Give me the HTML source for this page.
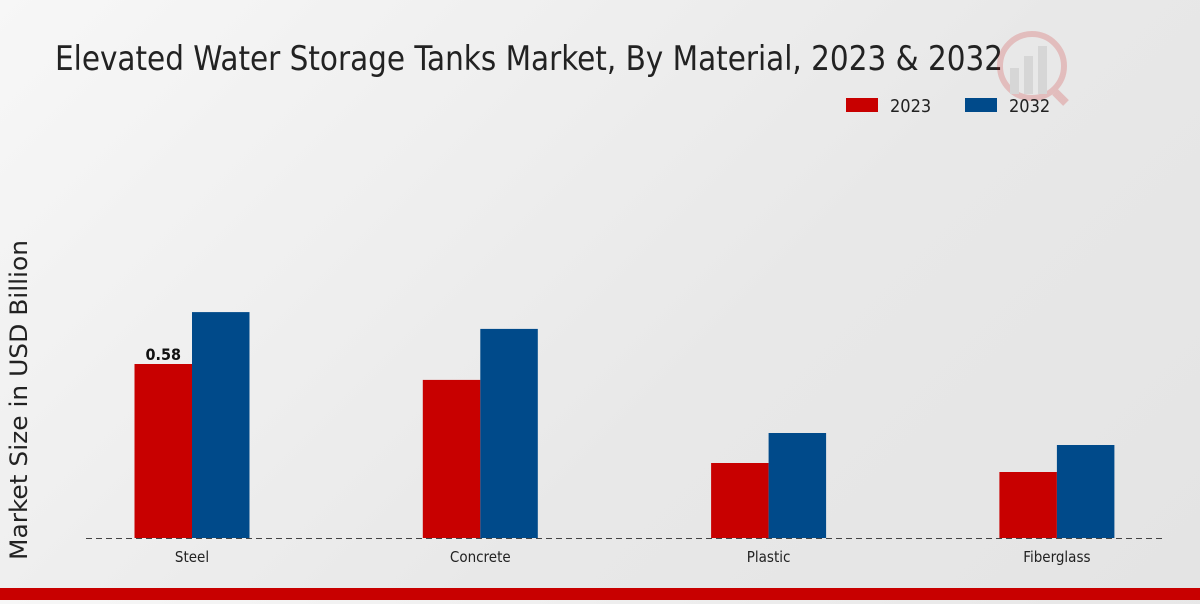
<!DOCTYPE html>
<html><head><meta charset="utf-8"><style>
body{margin:0;width:1200px;height:600px;overflow:hidden;background:linear-gradient(135deg,#f7f7f7 0%,#e8e8e8 60%,#e4e4e4 100%);font-family:"DejaVu Sans Condensed","DejaVu Sans","Liberation Sans",sans-serif;}
svg text{font-family:"DejaVu Sans Condensed","DejaVu Sans","Liberation Sans",sans-serif;font-stretch:condensed;}
</style></head><body>
<svg id="chart" width="1200" height="600">
<text x="55" y="70" font-size="34" textLength="948" lengthAdjust="spacingAndGlyphs" fill="#222">Elevated Water Storage Tanks Market, By Material, 2023 &amp; 2032</text>
<g opacity="0.18">
<circle cx="1032" cy="66" r="32" fill="none" stroke="#c00" stroke-width="6"/>
<rect x="1010" y="68" width="9" height="26" fill="#888"/><rect x="1024" y="56" width="9" height="38" fill="#888"/><rect x="1038" y="46" width="9" height="48" fill="#888"/>
<line x1="1055" y1="92" x2="1066" y2="103" stroke="#c00" stroke-width="8"/>
</g>
<g>
<rect x="846" y="98" width="32" height="14" fill="#c80000"/>
<text x="890" y="112" font-size="18" fill="#222">2023</text>
<rect x="965" y="98" width="32" height="14" fill="#004a8a"/>
<text x="1009" y="112" font-size="18" fill="#222">2032</text>
</g>
<text transform="translate(27,400) rotate(-90)" text-anchor="middle" font-size="24" textLength="320" lengthAdjust="spacingAndGlyphs" fill="#222">Market Size in USD Billion</text>
<g id="bars"></g>
<line x1="86" y1="538.5" x2="1165" y2="538.5" stroke="#444" stroke-dasharray="6,4"/>
<rect x="0" y="588" width="1200" height="12" fill="#c80000"/>
</svg>
<script>
const categories=["Steel","Concrete","Plastic","Fiberglass"];
const values2023=[0.58,0.527,0.25,0.22];
const values2032=[0.753,0.697,0.35,0.31];
const labels2023=["0.58","","",""];
const ns="http://www.w3.org/2000/svg";
const g=document.getElementById("bars");
const base=538, scale=300, x0=192, step=288.3, bw=57.5;
const y=v=>base-v*scale;
const xc=i=>x0+i*step;
function mk(t,a){const e=document.createElementNS(ns,t);for(const k in a)e.setAttribute(k,a[k]);g.appendChild(e);return e;}
categories.forEach((c,i)=>{
 const r1=mk("rect",{x:xc(i)-bw,y:y(values2023[i]),width:bw,height:values2023[i]*scale,fill:"#c80000"});
 
 
 const r2=mk("rect",{x:xc(i),y:y(values2032[i]),width:bw,height:values2032[i]*scale,fill:"#004a8a"});
 
 
 const t=mk("text",{x:xc(i),y:base+24,"text-anchor":"middle","font-size":"15",fill:"#222"});
 t.textContent=c;
 
 
 if(labels2023[i]){
  const v=mk("text",{x:xc(i)-bw/2,y:y(values2023[i])-4,"text-anchor":"middle","font-size":"16","font-weight":"bold",fill:"#111"});
  v.textContent=labels2023[i];
  
  
 }
});
</script>
</body></html>
